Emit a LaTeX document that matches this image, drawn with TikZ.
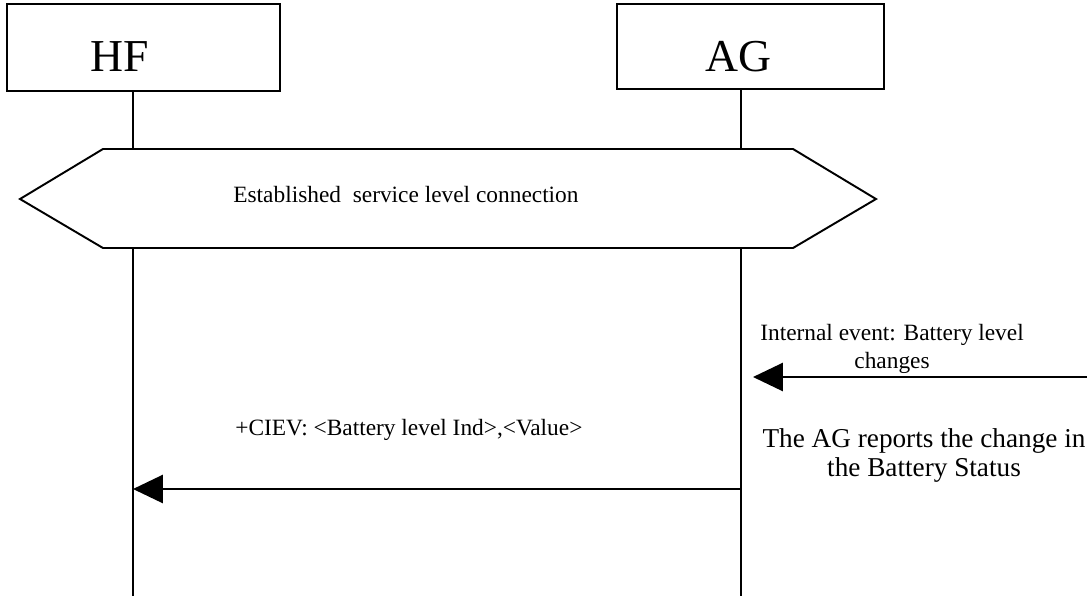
\documentclass[tikz,border=0pt]{standalone}
\usepackage{fontspec}
\setmainfont{Liberation Serif}
\usetikzlibrary{arrows.meta}
\tikzset{
  entity/.style={draw,line width=1.1pt,inner sep=0pt},
  life/.style={line width=1.4pt},
  band/.style={draw,fill=white,line width=1.1pt,line join=miter},
  msg/.style={line width=1.2pt,-{Triangle[length=17pt,width=16pt]}},
  bigtxt/.style={font=\fontsize{26}{30}\selectfont,inner sep=0pt},
  smalltxt/.style={font=\fontsize{13.3}{15.9}\selectfont,inner sep=0pt},
  notetxt/.style={font=\fontsize{15.5}{16.4}\selectfont,inner sep=0pt,align=center}
}
\begin{document}
\begin{tikzpicture}[x=0.02cm,y=-0.02cm]
  \useasboundingbox (0,0) rectangle (1087,596);
  % the two entities
  \node[entity,minimum width=5.46cm,minimum height=1.74cm] (hf) at (143.5,47.5) {};
  \node[bigtxt,anchor=base] (hfname) at (120,71) {HF};
  \node[entity,minimum width=5.34cm,minimum height=1.70cm] (ag) at (750.5,46.5) {};
  \node[bigtxt,anchor=base] (agname) at (738,71) {AG};
  \coordinate (hfbot) at (133,596);
  \coordinate (agbot) at (741,596);
  \draw[life] (hf.south -| hfbot) -- (hfbot); % lifelines
  \draw[life] (ag.south -| agbot) -- (agbot);
  % service level connection
  \draw[band] (20,199) -- (103,149) -- (793,149) -- (876,199) -- (793,248) -- (103,248) -- cycle;
  \node[smalltxt,anchor=base west] (slc) at (233,202) {Established\ \ service level connection};
  % internal event
  \coordinate (evsrc) at (1087,377);
  \coordinate (evdst) at (753,377);
  \draw[msg] (evsrc) -- (evdst);
  \node[smalltxt,align=center,anchor=north] (ev) at (892,324) {Internal event: Battery level\\changes};
  \node[notetxt,anchor=north] (note) at (924,428) {The AG reports the change in\\the Battery Status};
  % +CIEV message
  \coordinate (agmsg) at (741,489);
  \coordinate (hfmsg) at (133,489);
  \draw[msg] (agmsg) -- (hfmsg);
  \node[smalltxt,anchor=base west] (ciev) at (235,435) {+CIEV: <Battery level Ind>,<Value>};
\end{tikzpicture}
\end{document}
